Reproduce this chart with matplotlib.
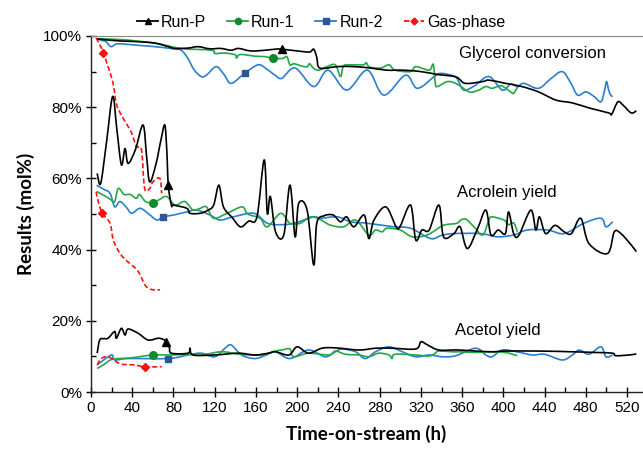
import numpy as np
import matplotlib
matplotlib.use("Agg")
import matplotlib.pyplot as plt
from matplotlib.ticker import MultipleLocator, PercentFormatter
from matplotlib.lines import Line2D
from matplotlib.path import Path
from matplotlib.patches import PathPatch

# ---- data: time-on-stream (h) and value (mol%) ----
# glycerol conversion
runp_conv_t = [6, 15, 29, 45, 62, 75, 81, 94, 104, 115, 126, 136, 143, 155, 169, 179, 185, 200, 212, 216, 219,
               222, 239, 255, 271, 287, 303, 320, 336, 354, 363, 380, 386, 402, 418, 434, 451, 467, 483, 502, 505,
               511, 516, 524, 529]
runp_conv_v = [99.2, 98.9, 98.6, 98.4, 98.0, 97.0, 96.5, 96.6, 97.0, 96.4, 96.5, 96.0, 96.5, 95.8, 96.0, 96.3,
               96.3, 95.8, 95.5, 96.3, 94.0, 91.0, 91.4, 91.4, 91.0, 90.4, 90.4, 90.0, 89.2, 88.5, 86.7, 87.2, 87.6,
               86.7, 85.8, 84.3, 82.0, 81.2, 79.8, 78.4, 78.0, 81.5, 80.6, 78.4, 79.0]
run1_conv_t = [6, 29, 62, 87, 117, 120, 130, 140, 141, 145, 160, 169, 177, 186, 190, 193, 197, 205, 210, 212, 216,
               221, 229, 237, 242, 245, 252, 264, 267, 270, 281, 289, 295, 310, 315, 328, 332, 334, 336, 346, 355,
               367, 376, 383, 389, 398, 407, 410, 414]
run1_conv_v = [99.2, 99.0, 98.0, 96.5, 96.0, 95.1, 95.2, 94.7, 93.8, 94.8, 94.3, 94.2, 93.7, 93.7, 94.2, 91.9, 92.2,
               91.5, 91.4, 92.2, 90.9, 90.4, 91.4, 91.9, 88.6, 91.6, 91.9, 91.9, 92.5, 91.3, 91.0, 91.9, 90.4, 90.0,
               91.4, 90.4, 92.0, 86.7, 85.8, 87.2, 86.5, 84.3, 84.8, 85.8, 85.3, 86.0, 84.3, 83.9, 85.8]
run2_conv_t = [6, 10, 14.6, 19.6, 26, 45, 62, 80, 87.5, 94, 100, 107, 112, 121.5, 129, 136, 149, 162, 170, 178.5,
               185, 198, 216, 230, 248, 268, 284, 305, 316.5, 333, 339, 349, 355, 361.5, 372, 386, 399, 407, 413.6,
               420, 434, 446, 457, 465, 472, 480, 488, 494.6, 498, 500, 502, 504, 506]
run2_conv_v = [99.2, 98.8, 98.4, 97.0, 97.8, 97.4, 97.0, 96.4, 96.0, 93.7, 90.5, 88.6, 89.0, 91.4, 89.2, 86.7,
               89.5, 91.9, 90.8, 89.0, 88.1, 91.0, 85.8, 90.4, 84.8, 90.4, 83.4, 89.0, 85.3, 88.6, 89.5, 89.0, 88.1,
               84.8, 86.0, 88.6, 84.8, 86.5, 85.8, 86.7, 85.3, 88.0, 90.0, 87.0, 83.4, 84.3, 83.0, 81.5, 84.5, 87.2,
               85.0, 83.4, 83.0]
gas_conv_t = [5, 8, 12, 21, 24.6, 30, 39, 44, 49, 52, 57, 60, 66.8, 68.5]
gas_conv_v = [99.5, 97.8, 95.3, 87.2, 81.0, 77.5, 73.0, 69.0, 68.0, 57.2, 57.2, 59.0, 60.0, 55.8]

# acrolein yield
runp_acro_t = [6, 9.4, 15, 21, 25, 29.5, 33, 36, 43, 50.5, 54, 57, 63, 68, 71.6, 73.5, 75, 78, 80, 93, 96, 106,
               113, 119, 124, 128.5, 137, 145, 153, 161, 168, 171, 174, 179, 187, 193, 198, 201.5, 209.6, 216, 219,
               226, 235, 242, 248, 255, 265, 269.5, 274.5, 286, 296, 300, 310, 315, 321, 328, 337.5, 342, 352, 358,
               365, 375, 383, 388, 395, 402, 405, 410, 415, 426.6, 431.5, 435, 441, 450, 459, 466, 475, 483, 501,
               507.6, 514, 524, 529]
runp_acro_v = [61.4, 58.6, 70, 83, 74, 63.8, 68.4, 64.2, 68, 75, 66, 59, 64, 71, 75, 68, 58.1, 52.5, 52.5, 51.6,
               50.2, 50.2, 51, 52.5, 58.1, 52, 49, 46.4, 48, 49.2, 65.2, 50.2, 54.9, 45, 44.1, 58.1, 43.6, 53, 51.1,
               35.7, 47.4, 49.5, 49.7, 47.8, 49.2, 46.4, 49.7, 43.1, 48.3, 52, 46.4, 46.6, 52.5, 42.7, 45.5, 45.5,
               52.5, 43.6, 44.5, 46.4, 40.3, 45.9, 51.1, 44.1, 45.5, 44.5, 50.6, 44.5, 44.0, 51.1, 45.5, 49.2, 44.5,
               46.8, 45.0, 44.5, 48.8, 41.7, 38.9, 45.0, 44.5, 41.3, 39.4]
run1_acro_t = [5.5, 14, 19.7, 23, 26.5, 32, 38, 44, 47, 53, 60.5, 66, 73.5, 81.6, 91, 99, 106, 112, 119, 132,
               146.5, 152, 164, 171, 184, 193, 203, 213, 222, 232, 245, 256.6, 269.5, 276, 282.5, 287, 300, 311.6,
               326, 339, 344, 355, 358.6, 364, 371.5, 380, 386, 389, 400.6, 405, 410, 413.6]
run1_acro_v = [56.3, 55, 53.9, 53.5, 57.2, 55.5, 55.5, 54.4, 55.5, 53.5, 53.2, 54, 54.9, 52.5, 53.5, 51.1, 51.6,
               52, 48.8, 50.2, 52, 50, 48.8, 46.4, 50.2, 47.4, 47.4, 49.2, 48.5, 46.9, 46.4, 48.3, 44.1, 45.5, 45,
               46, 45.5, 43.6, 44.1, 46.4, 47, 47.4, 48.3, 48.5, 46.4, 44.1, 48.3, 49.2, 48.3, 47, 47.5, 45]
run2_acro_t = [5.5, 12, 18.5, 23, 28, 34, 39.5, 47.6, 56, 64, 70, 80, 93, 102.7, 115.6, 125, 138, 158, 171, 185,
               197, 216, 222.5, 239, 252, 268, 294, 310, 329.5, 340, 352, 378, 394, 410, 423, 443, 459, 478, 494.6,
               499.5, 506]
run2_acro_v = [58.1, 57, 55.8, 52, 53.5, 52, 50.2, 51.6, 50, 48.3, 49.2, 49.7, 50.6, 51.1, 49.7, 48.3, 49.2, 50.2,
               47.4, 47, 47.4, 49.2, 48.8, 49.2, 47.8, 47.4, 46.4, 46, 43.1, 44, 44.5, 44.5, 43.6, 44.1, 45.5, 45.5,
               44.5, 47.4, 48.8, 46.4, 47.8]
gas_acro_t = [5, 7, 11, 18.5, 21.6, 28, 34, 39.5, 46, 52.5, 57, 60.5, 67]
gas_acro_v = [56.3, 53.5, 50.2, 47.4, 42.7, 39, 37, 35.7, 33.8, 30, 29, 28.7, 28.7]

# acetol yield
runp_acet_t = [6, 8.4, 12, 16.5, 23, 24.6, 29.5, 33, 36, 45.7, 55.4, 65, 70, 73, 76, 78, 94, 96, 99, 120, 143,
               159, 172, 179, 192, 200, 211, 224, 237, 260, 276, 292, 315, 320, 326, 337.5, 357, 386, 402, 435, 467,
               490, 506, 509, 522, 529]
runp_acet_v = [10.9, 14.6, 15, 15.1, 17, 15.1, 17.9, 16, 17.7, 16.5, 14.6, 15.1, 14.8, 14.1, 12.5, 10.9, 10.9,
               12.3, 10.4, 10.4, 10.9, 10.4, 10.9, 11.3, 10.4, 12.7, 10.9, 12.3, 12.4, 11.8, 12.3, 12.3, 12.1, 14.1,
               13.3, 11.8, 11.8, 11.3, 11.5, 11.5, 11.3, 11.1, 10.9, 10.2, 10.4, 10.7]
run1_acet_t = [6, 13, 21, 39, 60, 78, 94, 107, 126.6, 145, 165.5, 178.5, 185, 193, 196.6, 211, 230.6, 237, 247,
               260, 269.5, 279, 289, 292, 295, 315, 328, 334, 337, 350.5, 357, 373, 386, 402, 413.6]
run1_acet_v = [6.6, 7.8, 9.2, 9.6, 10.4, 10.4, 10.6, 10.4, 11.3, 10.6, 10.4, 11.5, 11.8, 12.1, 9.9, 10.9, 10.4,
               11.5, 10.6, 10.4, 9.9, 10.9, 10.4, 9.4, 10.6, 10.4, 10.1, 10.9, 11.5, 11.3, 11.3, 11.1, 11.3, 11.1,
               10.2]
run2_acet_t = [6, 19.7, 23, 36, 75, 94, 107, 120, 130, 136, 146, 159, 170, 179, 193, 211, 227, 237, 243.6, 256.6,
               266, 276, 289, 302, 315, 328, 341, 354, 373, 383, 389, 399, 413, 428, 440, 457, 467, 473.6, 483,
               494.6, 499.5, 506]
run2_acet_v = [7.6, 10.4, 9.0, 9.4, 9.4, 10.4, 10.9, 9.9, 12.3, 13.2, 10.4, 9.4, 10.4, 11.3, 9.4, 11.8, 9.9, 11.3,
               12.1, 11.3, 9.4, 11.3, 12.7, 11.3, 9.9, 10.4, 9.9, 10.2, 12.3, 10.4, 9.9, 11.8, 11.3, 10.4, 10.6, 9.0,
               10.4, 11.8, 10.6, 12.7, 9.9, 10.4]
gas_acet_t = [6, 10, 16.5, 24.6, 29.5, 42, 52, 68.5]
gas_acet_v = [7.6, 9.4, 9.9, 8.5, 7.8, 7.6, 7.1, 7.1]

# one marker per curve sits at these times
mark_conv = {"Run-P": 185, "Run-1": 177, "Run-2": 149, "Gas-phase": 12}
mark_acro = {"Run-P": 75, "Run-1": 60.5, "Run-2": 70, "Gas-phase": 11}
mark_acet = {"Run-P": 73, "Run-1": 60, "Run-2": 75, "Gas-phase": 52}

styles = {
    "Run-P": dict(color="black", marker="^", mfc="black", mec="black", ls="-", ms=6),
    "Run-1": dict(color="#22a846", marker="o", mfc="#118a2c", mec="#118a2c", ls="-", ms=5.5),
    "Run-2": dict(color="#2a7fd0", marker="s", mfc="#2b5797", mec="#2b5797", ls="-", ms=5),
    "Gas-phase": dict(color="#ff1010", marker="D", mfc="#ff1010", mec="#ff1010", ls=(0, (3, 1.6)), ms=4.5),
}

series = [
    ("Run-P", runp_conv_t, runp_conv_v, mark_conv), ("Run-1", run1_conv_t, run1_conv_v, mark_conv),
    ("Run-2", run2_conv_t, run2_conv_v, mark_conv), ("Gas-phase", gas_conv_t, gas_conv_v, mark_conv),
    ("Run-P", runp_acro_t, runp_acro_v, mark_acro), ("Run-1", run1_acro_t, run1_acro_v, mark_acro),
    ("Run-2", run2_acro_t, run2_acro_v, mark_acro), ("Gas-phase", gas_acro_t, gas_acro_v, mark_acro),
    ("Run-P", runp_acet_t, runp_acet_v, mark_acet), ("Run-1", run1_acet_t, run1_acet_v, mark_acet),
    ("Run-2", run2_acet_t, run2_acet_v, mark_acet), ("Gas-phase", gas_acet_t, gas_acet_v, mark_acet),
]


def smooth_path(x, y, k=1 / 6.):
    # Excel-like smoothed line: cubic bezier through every point (catmull-rom tangents)
    x = np.asarray(x, float)
    y = np.asarray(y, float)
    xp = np.r_[x[0], x, x[-1]]
    yp = np.r_[y[0], y, y[-1]]
    verts = [(x[0], y[0])]
    codes = [Path.MOVETO]
    for i in range(len(x) - 1):
        c1 = (x[i] + k * (xp[i + 2] - xp[i]), y[i] + k * (yp[i + 2] - yp[i]))
        c2 = (x[i + 1] - k * (xp[i + 3] - xp[i + 1]), y[i + 1] - k * (yp[i + 3] - yp[i + 1]))
        verts += [c1, c2, (x[i + 1], y[i + 1])]
        codes += [Path.CURVE4] * 3
    return Path(verts, codes)


plt.rcParams["font.family"] = ["Liberation Sans", "DejaVu Sans"]

fig = plt.figure(figsize=(6.43, 4.51), dpi=100)
ax = fig.add_axes([0.1415, 0.1308, 0.857, 0.7894])

order = {"Gas-phase": 4, "Run-2": 2, "Run-1": 3, "Run-P": 5}
for name, t, v, marks in series:
    st = styles[name]
    t = np.array(t)
    ax.add_patch(PathPatch(smooth_path(t, v), fill=False, edgecolor=st["color"], ls=st["ls"], lw=1.2,
                           zorder=order[name], capstyle="butt", joinstyle="round"))
    idx = int(np.argmin(np.abs(t - marks[name])))
    ax.plot(t[idx], v[idx], ls="none", marker=st["marker"], ms=st["ms"], mfc=st["mfc"], mec=st["mec"],
            zorder=order[name] + 0.5)

ax.set_xlim(0, 534.5)
ax.set_ylim(0, 100)
ax.xaxis.set_major_locator(MultipleLocator(40))
ax.xaxis.set_minor_locator(MultipleLocator(20))
ax.yaxis.set_major_locator(MultipleLocator(20))
ax.yaxis.set_minor_locator(MultipleLocator(10))
ax.yaxis.set_major_formatter(PercentFormatter(decimals=0))
ax.tick_params(which="major", direction="inout", length=7, width=1, labelsize=11, pad=3)
ax.tick_params(which="minor", direction="in", length=3.5, width=1)
ax.spines["right"].set_visible(False)
ax.spines["top"].set_color("#888888")
ax.spines["top"].set_linewidth(0.8)
for s in ("left", "bottom"):
    ax.spines[s].set_linewidth(1)
    ax.spines[s].set_color("#222222")

ax.set_xlabel("Time-on-stream (h)", fontsize=13.5, fontweight="bold", family="Lato", labelpad=7)
ax.set_ylabel("Results (mol%)", fontsize=13.5, fontweight="bold", family="Lato", labelpad=6)

ax.text(428, 95.0, "Glycerol conversion", fontsize=12, ha="center", va="center")
ax.text(403, 55.9, "Acrolein yield", fontsize=12, ha="center", va="center")
ax.text(395, 17.4, "Acetol yield", fontsize=12, ha="center", va="center")

handles = []
for name in ["Run-P", "Run-1", "Run-2", "Gas-phase"]:
    st = styles[name]
    handles.append(Line2D([], [], color=st["color"], ls=st["ls"], lw=1.3, marker=st["marker"], ms=st["ms"] - 1,
                          mfc=st["mfc"], mec=st["mec"], label=name))
fig.legend(handles=handles, loc="center", bbox_to_anchor=(0.5, 0.95), ncol=4, frameon=False, fontsize=11.5,
           handlelength=1.3, handletextpad=0.2, columnspacing=1.3, borderaxespad=0)

fig.savefig("out.png", dpi=100)
